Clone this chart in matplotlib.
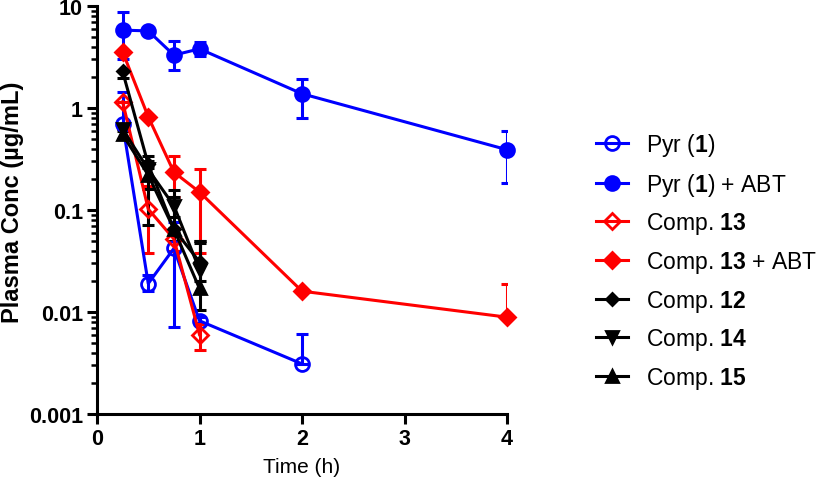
import numpy as np
import matplotlib
matplotlib.use('Agg')
import matplotlib.pyplot as plt
from matplotlib.ticker import LogLocator, NullFormatter, FixedLocator, FixedFormatter

plt.rcParams['font.family'] = ['Liberation Sans', 'DejaVu Sans']
plt.rcParams['mathtext.fontset'] = 'custom'
plt.rcParams['mathtext.bf'] = 'Liberation Sans:bold'
plt.rcParams['mathtext.rm'] = 'Liberation Sans'

# Datos (tiempo en h, concentracion en ug/mL)
t_pyr = [0.25, 0.5, 0.75, 1, 2]
pyr = [0.70, 0.019, 0.042, 0.0082, 0.0031]
pyr_lo = [0.50, 0.016, 0.0072, 0.0078, 0.0031]
pyr_hi = [1.42, 0.023, 0.076, 0.0090, 0.0061]

t_pyr_abt = [0.25, 0.5, 0.75, 1, 2, 4]
pyr_abt = [5.8, 5.7, 3.3, 3.8, 1.38, 0.39]
pyr_abt_lo = [3.0, 5.7, 2.35, 3.2, 0.80, 0.186]
pyr_abt_hi = [8.7, 5.7, 4.5, 4.4, 1.93, 0.60]

t_c13 = [0.25, 0.5, 0.75, 1]
c13 = [1.15, 0.102, 0.052, 0.006]
c13_lo = [1.15, 0.038, 0.040, 0.0042]
c13_hi = [1.15, 0.17, 0.066, 0.0077]

t_c13_abt = [0.25, 0.5, 0.75, 1, 2, 4]
c13_abt = [3.55, 0.82, 0.235, 0.150, 0.016, 0.0089]
c13_abt_lo = [3.55, 0.82, 0.135, 0.038, 0.016, 0.0089]
c13_abt_hi = [3.55, 0.82, 0.34, 0.25, 0.016, 0.019]

t_c12 = [0.25, 0.5, 0.75, 1]
c12 = [2.28, 0.28, 0.065, 0.031]
c12_lo = [1.98, 0.20, 0.050, 0.031]
c12_hi = [2.28, 0.34, 0.085, 0.050]

t_c14 = [0.25, 0.5, 0.75, 1]
c14 = [0.62, 0.25, 0.11, 0.026]
c14_lo = [0.50, 0.071, 0.060, 0.020]
c14_hi = [0.62, 0.30, 0.158, 0.048]

t_c15 = [0.25, 0.5, 0.75, 1]
c15 = [0.55, 0.22, 0.065, 0.017]
c15_lo = [0.50, 0.16, 0.050, 0.0105]
c15_hi = [0.60, 0.26, 0.135, 0.050]

labels = ['Pyr ($\\mathbf{1}$)', 'Pyr ($\\mathbf{1}$) + ABT', 'Comp. $\\mathbf{13}$',
          'Comp. $\\mathbf{13}$ + ABT', 'Comp. $\\mathbf{12}$', 'Comp. $\\mathbf{14}$',
          'Comp. $\\mathbf{15}$']

series = [
    (t_pyr, pyr, pyr_lo, pyr_hi, '#0000ff', 'o', 'none', 10),
    (t_pyr_abt, pyr_abt, pyr_abt_lo, pyr_abt_hi, '#0000ff', 'o', '#0000ff', 10),
    (t_c13, c13, c13_lo, c13_hi, '#ff0000', 'D', 'none', 8.5),
    (t_c13_abt, c13_abt, c13_abt_lo, c13_abt_hi, '#ff0000', 'D', '#ff0000', 8.5),
    (t_c12, c12, c12_lo, c12_hi, 'black', 'D', 'black', 6),
    (t_c14, c14, c14_lo, c14_hi, 'black', 'v', 'black', 8),
    (t_c15, c15, c15_lo, c15_hi, 'black', '^', 'black', 8),
]

fig = plt.figure(figsize=(8.27, 4.89), dpi=100)
ax = fig.add_axes([97/827, 1-415/489, (507-97)/827, (415-7)/489])

handles = []
for (t, y, lo, hi, col, mk, fc, ms), lab in zip(series, labels):
    y = np.array(y)
    err = [y - np.array(lo), np.array(hi) - y]
    ax.errorbar(t, y, yerr=err, fmt='none', ecolor=col, elinewidth=2.2,
                capsize=4, capthick=2.2, zorder=2)
    h, = ax.plot(t, y, color=col, marker=mk, markerfacecolor=fc,
                 markeredgecolor=col, markeredgewidth=2, markersize=ms,
                 linewidth=2.2, label=lab, zorder=3, clip_on=False)
    handles.append(h)

ax.set_yscale('log')
ax.set_ylim(0.001, 10)
ax.set_xlim(0, 4)
ax.yaxis.set_major_locator(FixedLocator([0.001, 0.01, 0.1, 1, 10]))
ax.yaxis.set_major_formatter(FixedFormatter(['0.001', '0.01', '0.1', '1', '10']))
ax.yaxis.set_minor_locator(LogLocator(base=10, subs=np.arange(2, 10)))
ax.yaxis.set_minor_formatter(NullFormatter())
ax.set_xticks([0, 1, 2, 3, 4])

for s in ['top', 'right']:
    ax.spines[s].set_visible(False)
for s in ['left', 'bottom']:
    ax.spines[s].set_linewidth(2.2)
ax.tick_params(axis='both', which='major', width=2.2, length=7, labelsize=15.5, pad=3)
ax.tick_params(axis='y', which='minor', width=1.8, length=4)
for lbl in ax.get_xticklabels() + ax.get_yticklabels():
    lbl.set_fontweight('bold')

ax.set_xlabel('Time (h)', fontsize=15, labelpad=6)
fig.text(13/827, 1-202/489, 'Plasma Conc (µg/mL)', rotation=90, ha='center',
         va='center', fontsize=17, fontweight='bold')

fig.legend(handles=handles, loc='center left', bbox_to_anchor=(596/827, 1-262/489),
           frameon=False, fontsize=16.5, handlelength=1.4, handletextpad=0.8,
           labelspacing=0.55, borderpad=0, borderaxespad=0)

plt.savefig('out.png', dpi=100)
